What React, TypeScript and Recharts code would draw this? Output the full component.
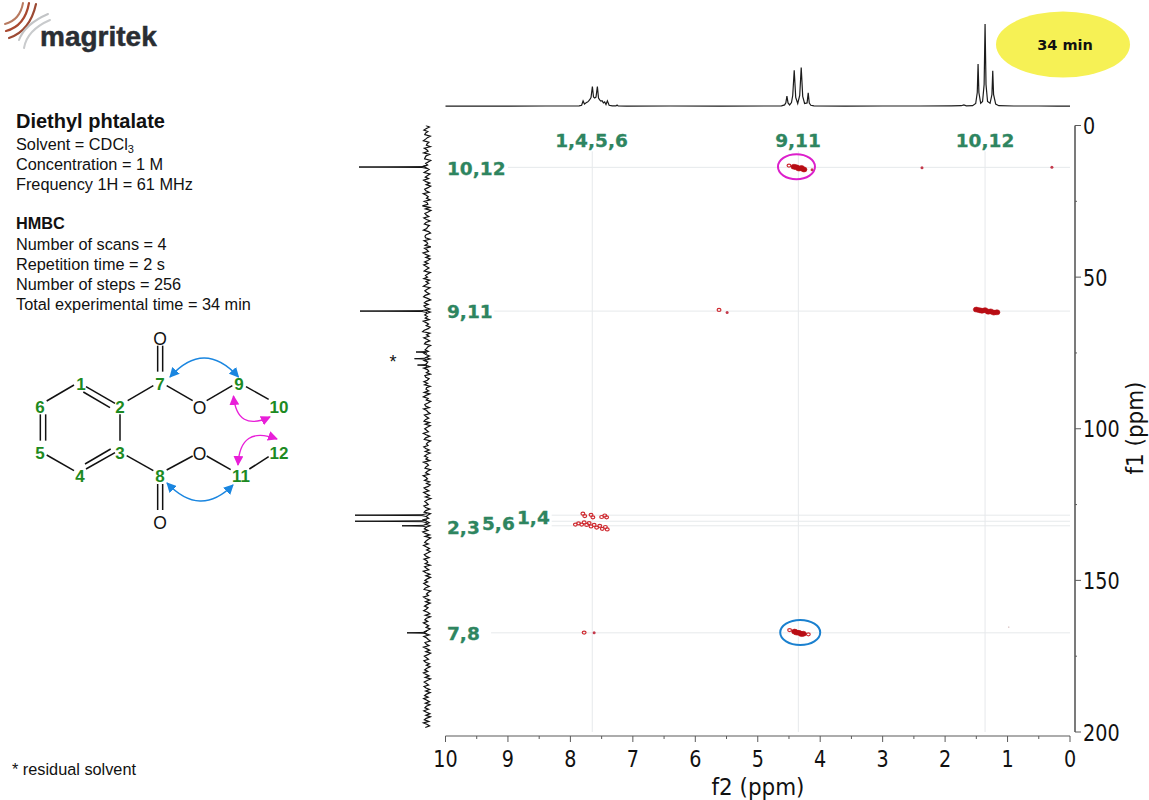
import React from 'react';
import { LineChart, Line, ScatterChart, Scatter, XAxis, YAxis, ReferenceLine } from 'recharts';

// 1H trace on top (f2 ppm / height)
const protonPpm = [
  10, 9.2, 8.4, 8.0, 7.86, 7.82, 7.797, 7.775, 7.744, 7.725, 7.707, 7.691, 7.67, 7.648, 7.63, 7.611, 7.59, 7.568, 7.55,
  7.531, 7.512, 7.493, 7.472, 7.451, 7.43, 7.408, 7.38, 7.33, 7.27, 7.253, 7.235, 7.1, 6.4, 5.6, 4.9, 4.62, 4.57, 4.55,
  4.533, 4.515, 4.49, 4.46, 4.44, 4.416, 4.392, 4.36, 4.328, 4.304, 4.28, 4.25, 4.21, 4.192, 4.175, 4.15, 4.1, 3.6, 3.0,
  2.4, 1.9, 1.74, 1.7, 1.66, 1.56, 1.51, 1.485, 1.472, 1.459, 1.43, 1.40, 1.375, 1.36, 1.345, 1.32, 1.28, 1.25, 1.237,
  1.224, 1.19, 1.14, 0.9, 0.5, 0.2, 0,
];
const protonHeight = [
  0.4, 0.4, 0.5, 0.5, 0.6, 1.2, 5.6, 2.4, 4, 4.4, 5.6, 6.8, 9, 20, 9.5, 8.5, 9.4, 20, 8.5, 6.6, 5.4, 5.8, 3.6, 4.6, 2, 5.6,
  1.2, 0.6, 0.6, 1.5, 0.6, 0.4, 0.5, 0.4, 0.5, 0.7, 1.6, 3.6, 10.3, 3.6, 1.6, 4, 11, 36.3, 9, 3, 11, 39, 10, 3, 3.6, 13.6,
  3.4, 1.2, 0.6, 0.4, 0.5, 0.5, 0.6, 0.8, 1.6, 0.7, 0.8, 3, 14, 42.5, 14, 3.2, 5, 22, 82.5, 22, 5, 3.2, 12, 35.8, 12, 2.4,
  0.8, 0.5, 0.5, 0.4, 0.4,
];

// 13C trace on the left, read every 0.5 ppm from 0 to 200
const carbonStep = 0.5;
const carbonNoise = [
  1.2, -2.4, 0.6, 3.1, -0.8, 1.5, 2.2, -3.3, -0.4, 1.4, 3.6, -1.9, -0.2, 0.6, -3.4, 2.7, 0.2, -1.1, 3.3, -2.6, 0.9, 1.8,
  2.4, -3.7, -1.2, 1.3, -0.6, 3.8, 0.4, -2.1, 0.4, 2.9, -3, -0.6, 1.7, -1.5, 3.4, 1, -2.8, 0.8, -3.6, -1, 2.3, 1.1, -2.2,
  3.7, 0.7, -1.3, 0.5, -3.1, 2.8, -0.3, -0.9, 4.6, -2.7, 1.6, -3.9, -1.1, 2.1, 0.7, -1.8, 3.2, 0.5, -3.2, 1, 2.6, -2.3,
  -0.5, 0.3, 3.5, -1.6, -3.5, 0.8, 2, 1.5, -2.9, 3, 0.1, -0.7, 1.9, -3.8, 2.5, 0.2, -1.4, 3.9, 1.2, -2.5, 1.2, -3.2, -0.8,
  2.4, -1, 3.3, 0.6, -2, 0.6, 2.8, -3.4, -0.7, 1.5, -0.5, 3.1, -2.6, 0.9, -1.7, 1.1, 3.6, -3, -0.2, 2.2, 0.4, -2.4, 1.8,
  3.4, -0.6, -3.6, 0.7, 2.6, -1.2, 3, 1.4, -2.8, 1.3, -3.3, 0.3, 2.3, -0.4, 1.7, -2.2, 3.7, 0.9, -1.5, 0.8, -3.1, -1.2,
  2.7, 4.4, -2.9, 0.5, -1.9, 3.2, 0.2, -2.7, 1.4, 2.5, -3.5, -0.7, 0.3, 1.9, -1.3, 3.5, 1.1, -2.4, 1.1, -3, 2.9, -0.8, 0.4,
  1.6, -2.6, 3.3, -0.4, -1.8, 0.6, -3.4, 2.1, 1.2, -2.1, -0.3, 3.1, -0.6, 2.4, -3.2, 0.5, 1, -1.6, 2.8, -2.8, 0.9, 3.6,
  -1.1, 0.7, -3.7, -0.9, 2.2, 1.5, -2.3, 3.4, 0.3, -0.9, -3, 2.6, 0.9, -1.7, 1.6, 3, -2.5, 1.8, -3.3, -0.2, 2.3, 0.4, -1.4,
  3.7, 0.8, -2.7, 1.3, 2.7, -3.6, -0.8, 0.6, -1, 3.2, 1.2, -2.2, 1.7, -3.1, 0.3, 2.5, -0.7, 1.1, -2.9, 3.5, 0.2, -1.5,
  0.8, 2, -3.5, -0.4, 1.4, -2, 3.8, 1, -0.5, 2.4, -2.6, 0.5, -3.2, -1.3, 2.9, 1, -1.9, 3.3, 0.6, -2.4, 1.6, -3.8, -0.1,
  2.2, 0.3, -1.2, 3.1, 1.3, -2.8, 1.2, 2.8, -3.4, -0.6, 0.7, -1.6, 3.6, 0.4, -2.3, 1.5, -3, 0.9, 2.6, -0.9, 4.2, 1.7, -2.7,
  1.9, -3.6, -1, 0.9, 2.3, -1.3, 3.4, 0.5, -2.5, 0.4, -3.3, -0.5, 2.7, 1.3, -2.1, 3, 0.2, -0.8, 1.8, -3.1, 2.4, 0.6, -1.8,
  3.7, 1.1, -2.9, 1.1, -3.5, -0.3, 2.1, -0.6, 3.2, 0.7, -2.2, 1.6, 2.9, -3.7, -1.1, 0.5, -1.4, 3.5, 1.2, -2.6, 1.4, -3.2,
  0.1, 2.5, -1, 0.8, 3.3, -0.7, -2.8, 1.7, -3.4, 0.6, 2.2, -0.7, 3.6, 1, -1.7, 0.9, -3, -0.4, 2.7, 1.5, -2.3, 3.2, 0.3,
  -1.2, -3.3, 2, 0.8, -1.9, 3.4, 0.4, -2.6, 1.2, -3.6, -0.9, 2.6, 0.5, -1.5, 3.1, 1.4, -2.4, 0.7, -3.1, 0.2, 2.3, -0.8,
  3.5, 0.9, -2.1, 1.8, -3.5, -0.2, 2.8, 0.6, -1.6, 3, 1, -2.7, 1.3, -3.2, 0.4, 2.4, -1.1, 3.3, 0.1, -2.5, 1.6, -2.9, 0.7,
  2.1, -1.4, 3.2, 0.5, -2.9, 1.1, -3.4, 0.8, 2.6, -1.8, 3.5, -0.3, -2.6, 1.7,
];
const carbonPeaks = [
  [[13.2, 0], [13.55, 5], [13.7, 68], [13.85, 5], [14.2, 0]],
  [[60.7, 0], [61.05, 5], [61.2, 67], [61.35, 5], [61.7, 0]],
  [[74.2, 0], [74.55, 2], [74.7, 11], [74.85, 2], [75.2, 0]],
  [[76.4, 0], [76.75, 2], [76.9, 12.5], [77.05, 2], [77.4, 0]],
  [[78.5, 0], [78.85, 2], [79, 9.5], [79.15, 2], [79.5, 0]],
  [[128, 0], [128.35, 5], [128.5, 72], [128.65, 5], [129, 0]],
  [[130, 0], [130.35, 5], [130.5, 72], [130.65, 5], [131, 0]],
  [[131.5, 0], [131.85, 4], [132, 25], [132.15, 4], [132.5, 0]],
  [[166.8, 0], [167.15, 3], [167.3, 20], [167.45, 3], [167.8, 0]],
];

// HMBC cross peaks, f2 / f1 ppm
const peakBlobs = [
  { f2: 4.42, f1: 13.6 }, { f2: 4.38, f1: 13.8 }, { f2: 4.34, f1: 14.2 }, { f2: 4.3, f1: 14 }, { f2: 4.26, f1: 14.5 },
  { f2: 1.5, f1: 60.7 }, { f2: 1.45, f1: 60.9 }, { f2: 1.41, f1: 61.1 }, { f2: 1.36, f1: 60.9 }, { f2: 1.31, f1: 61.4 },
  { f2: 1.27, f1: 61.3 }, { f2: 1.22, f1: 61.7 }, { f2: 1.17, f1: 61.6 },
  { f2: 4.41, f1: 166.9 }, { f2: 4.38, f1: 167.2 }, { f2: 4.34, f1: 167.3 }, { f2: 4.3, f1: 167.7 }, { f2: 4.27, f1: 167.6 },
];
const peakRings = [
  { f2: 4.5, f1: 13.2 }, { f2: 4.49, f1: 166.4 }, { f2: 4.19, f1: 167.8 }, { f2: 5.62, f1: 60.8 }, { f2: 7.78, f1: 167.2 },
  { f2: 7.8, f1: 128 }, { f2: 7.77, f1: 128.8 }, { f2: 7.67, f1: 128.4 }, { f2: 7.64, f1: 129.2 }, { f2: 7.5, f1: 129.1 },
  { f2: 7.45, f1: 128.6 }, { f2: 7.42, f1: 129.2 }, { f2: 7.92, f1: 131.6 }, { f2: 7.87, f1: 131.2 }, { f2: 7.82, f1: 131.6 },
  { f2: 7.78, f1: 130.9 }, { f2: 7.74, f1: 131.7 }, { f2: 7.7, f1: 131.1 }, { f2: 7.67, f1: 132.2 }, { f2: 7.62, f1: 131.7 },
  { f2: 7.58, f1: 132.6 }, { f2: 7.53, f1: 132 }, { f2: 7.49, f1: 133 }, { f2: 7.44, f1: 132.4 }, { f2: 7.41, f1: 133.2 },
];
const peakDots = [
  { f2: 4.13, f1: 14.6 }, { f2: 2.37, f1: 13.9 }, { f2: 0.29, f1: 13.8 }, { f2: 5.49, f1: 61.7 }, { f2: 7.62, f1: 167.3 },
];
const faintDots = [{ f2: 0.98, f1: 165.4 }];
const magentaCircle = [{ f2: 4.38, f1: 13.6 }];
const blueCircle = [{ f2: 4.32, f1: 167.2 }];

// assignment guide lines
const guideRows = [
  { f1: 13.8, from: 9.0 }, { f1: 61.2, from: 9.22 }, { f1: 128.5, from: 8.3 }, { f1: 130.5, from: 8.3 }, { f1: 132, from: 8.3 },
  { f1: 167.3, from: 9.27 },
];
const guideCols = [7.65, 4.35, 1.36];

const f2Ticks = [0, 0.5, 1, 1.5, 2, 2.5, 3, 3.5, 4, 4.5, 5, 5.5, 6, 6.5, 7, 7.5, 8, 8.5, 9, 9.5, 10];
const f1Ticks = [0, 25, 50, 75, 100, 125, 150, 175, 200];

const infoLines = ['Number of scans = 4', 'Repetition time = 2 s', 'Number of steps = 256', 'Total experimental time = 34 min'];

const AXIS_COLOR = '#5a5a5a';
const LABEL_GREEN = '#2e8560';
const GUIDE = '#e6e9eb';
const ATOM_GREEN = '#1d8a22';
const TICK_FONT = '"DejaVu Sans", sans-serif';

const noiseTrace = carbonNoise.map((v, i) => ({ f1: i * carbonStep, amp: v })).filter((p) => p.f1 <= 200);

const F2Tick = ({ x, y, payload }: any) => {
  const major = Number.isInteger(payload.value);
  const label = String(payload.value);
  return (
    <g>
      <line x1={x} x2={x} y1={y} y2={y + (major ? 6 : 3)} stroke={AXIS_COLOR} strokeWidth={1} />
      {major && (
        <text x={x} y={y + 31} textAnchor="middle" fontFamily={TICK_FONT} fontSize={23} fill="#111"
          textLength={label.length * 12.2} lengthAdjust="spacingAndGlyphs">
          {label}
        </text>
      )}
    </g>
  );
};

const F1Tick = ({ x, y, payload }: any) => {
  const major = payload.value % 50 === 0;
  const label = String(payload.value);
  return (
    <g>
      <line x1={x} x2={x + (major ? 6 : 2)} y1={y} y2={y} stroke={AXIS_COLOR} strokeWidth={1} />
      {major && (
        <text x={x + 8} y={y + 8.5} textAnchor="start" fontFamily={TICK_FONT} fontSize={23} fill="#111"
          textLength={label.length * 12.2} lengthAdjust="spacingAndGlyphs">
          {label}
        </text>
      )}
    </g>
  );
};

const noMark = () => <g />;
const blobMark = ({ cx, cy }: any) => <ellipse cx={cx} cy={cy} rx={3} ry={2.5} fill="#b80d14" stroke="#b80d14" strokeWidth={0.6} />;
const ringMark = ({ cx, cy }: any) => <ellipse cx={cx} cy={cy} rx={1.9} ry={1.5} fill="none" stroke="#cf2a30" strokeWidth={1.2} />;
const dotMark = ({ cx, cy }: any) => <circle cx={cx} cy={cy} r={1.5} fill="#c43a4c" />;
const faintMark = ({ cx, cy }: any) => <circle cx={cx} cy={cy} r={0.7} fill="#c4a0a0" />;
const magentaMark = ({ cx, cy }: any) => <ellipse cx={cx} cy={cy} rx={18.5} ry={12.5} fill="none" stroke="#dc1fcb" strokeWidth={2} />;
const blueMark = ({ cx, cy }: any) => <ellipse cx={cx} cy={cy} rx={20} ry={12.5} fill="none" stroke="#1a80cf" strokeWidth={2} />;

const Proton = () => (
  <div style={{ position: 'absolute', left: 0, top: 0 }}>
    <LineChart
      width={1149}
      height={120}
      data={protonPpm.map((p, i) => ({ ppm: p, h: protonHeight[i] }))}
      margin={{ top: 20, right: 79, bottom: 13.5, left: 445.5 }}
    >
      <XAxis type="number" dataKey="ppm" domain={[0, 10]} reversed hide />
      <YAxis type="number" domain={[0, 86.5]} hide />
      <Line type="linear" dataKey="h" stroke="#1c1c1c" strokeWidth={1.2} dot={false} isAnimationActive={false} />
    </LineChart>
  </div>
);

const Carbon = () => (
  <div style={{ position: 'absolute', left: 340, top: 0 }}>
    <ScatterChart width={100} height={800} margin={{ top: 125.5, right: 5, bottom: 68, left: 10 }}>
      <XAxis type="number" dataKey="amp" domain={[-8, 77]} reversed hide />
      <YAxis type="number" dataKey="f1" domain={[0, 200]} reversed hide allowDataOverflow />
      <Scatter data={noiseTrace} line={{ stroke: '#111', strokeWidth: 1.2 }} shape={noMark} isAnimationActive={false} />
      {carbonPeaks.map((pk, i) => (
        <Scatter
          key={i}
          data={pk.map(([f1, amp]) => ({ f1, amp }))}
          line={{ stroke: '#111', strokeWidth: 1 }}
          shape={noMark}
          isAnimationActive={false}
        />
      ))}
    </ScatterChart>
  </div>
);

const Hmbc = () => (
  <div style={{ position: 'absolute', left: 0, top: 0 }}>
    <ScatterChart width={1149} height={800} margin={{ top: 125.5, right: 0, bottom: 0, left: 445.5 }}>
      {/* spacer axes push the real axes 4-5px off the plot */}
      <XAxis xAxisId="aGap" type="number" dataKey="f2" domain={[0, 10]} reversed height={4} axisLine={false} tickLine={false} tick={false} />
      <XAxis
        xAxisId="f2"
        type="number"
        dataKey="f2"
        domain={[0, 10]}
        reversed
        ticks={f2Ticks}
        interval={0}
        height={64}
        tick={F2Tick}
        tickLine={false}
        tickSize={0}
        tickMargin={0}
        axisLine={{ stroke: AXIS_COLOR, strokeWidth: 1.2 }}
      />
      <YAxis yAxisId="aGap" orientation="right" type="number" dataKey="f1" domain={[0, 200]} reversed width={5} axisLine={false} tickLine={false} tick={false} />
      <YAxis
        yAxisId="f1"
        orientation="right"
        type="number"
        dataKey="f1"
        domain={[0, 200]}
        reversed
        ticks={f1Ticks}
        interval={0}
        width={74}
        tick={F1Tick}
        tickLine={false}
        tickSize={0}
        tickMargin={0}
        axisLine={{ stroke: AXIS_COLOR, strokeWidth: 1.6 }}
      />
      {guideRows.map((g) => (
        <ReferenceLine
          key={g.f1}
          xAxisId="f2"
          yAxisId="f1"
          segment={[{ x: g.from, y: g.f1 }, { x: 0, y: g.f1 }]}
          stroke={GUIDE}
          strokeWidth={1}
        />
      ))}
      {guideCols.map((c) => (
        <ReferenceLine
          key={c}
          xAxisId="f2"
          yAxisId="f1"
          segment={[{ x: c, y: 8.5 }, { x: c, y: 200 }]}
          stroke={GUIDE}
          strokeWidth={1}
        />
      ))}
      <Scatter xAxisId="f2" yAxisId="f1" data={peakRings} shape={ringMark} isAnimationActive={false} />
      <Scatter xAxisId="f2" yAxisId="f1" data={peakBlobs} shape={blobMark} isAnimationActive={false} />
      <Scatter xAxisId="f2" yAxisId="f1" data={peakDots} shape={dotMark} isAnimationActive={false} />
      <Scatter xAxisId="f2" yAxisId="f1" data={faintDots} shape={faintMark} isAnimationActive={false} />
      <Scatter xAxisId="f2" yAxisId="f1" data={magentaCircle} shape={magentaMark} isAnimationActive={false} />
      <Scatter xAxisId="f2" yAxisId="f1" data={blueCircle} shape={blueMark} isAnimationActive={false} />
    </ScatterChart>
  </div>
);

const Bond = ({ d }: { d: number[] }) => (
  <line x1={d[0] / 3} y1={320 + d[1] / 3} x2={d[2] / 3} y2={320 + d[3] / 3} stroke="#111" strokeWidth={1.5} />
);

const bonds = [
  [140, 243, 222, 195], [258, 200, 345, 250], [250, 216, 330, 263], [360, 283, 360, 362], [345, 398, 258, 447],
  [332, 387, 255, 432], [222, 452, 140, 405], [121, 362, 121, 283], [137, 362, 137, 283], [383, 242, 460, 197],
  [380, 407, 460, 452], [473, 155, 473, 77], [488, 155, 488, 77], [473, 492, 473, 570], [488, 492, 488, 570],
  [500, 197, 578, 242], [620, 242, 697, 197], [738, 200, 806, 238], [500, 450, 578, 408], [620, 408, 692, 449],
  [748, 447, 806, 410],
];
const atoms: [string, number, number][] = [
  ['1', 81, 384], ['2', 120, 407], ['3', 120, 453], ['4', 80, 476], ['5', 40, 453], ['6', 40, 407], ['7', 160, 384],
  ['8', 160, 476], ['9', 239, 384], ['10', 279, 407], ['11', 241, 476], ['12', 279, 453],
];
const oxygens: [number, number][] = [[160, 338], [199.5, 407], [199.5, 453], [160, 522]];

const Overlay = () => (
  <svg width={1149} height={800} style={{ position: 'absolute', left: 0, top: 0 }}>
    <defs>
      <marker id="arB" viewBox="0 0 10 10" refX="9" refY="5" markerWidth="10" markerHeight="10" orient="auto-start-reverse" markerUnits="userSpaceOnUse">
        <path d="M0,0 L10,5 L0,10 Z" fill="#1a86e0" />
      </marker>
      <marker id="arM" viewBox="0 0 10 10" refX="9" refY="5" markerWidth="10" markerHeight="10" orient="auto-start-reverse" markerUnits="userSpaceOnUse">
        <path d="M0,0 L10,5 L0,10 Z" fill="#e81fd8" />
      </marker>
    </defs>

    {/* logo */}
    <g fill="none" strokeLinecap="round">
      <path d="M5,24 Q20,20 23,3" stroke="#b87a60" strokeWidth={2} />
      <path d="M6,31 Q25,26 29,3" stroke="#a9482f" strokeWidth={2.2} />
      <path d="M9,38 Q30,31 36,4" stroke="#9c4a34" strokeWidth={2.2} />
      <path d="M19,40 Q25,24 48,14" stroke="#c2c4c6" strokeWidth={2} />
      <path d="M24,48 Q27,30 50,20" stroke="#c9cbcd" strokeWidth={2} />
    </g>
    <text x={40} y={46} fontFamily='"Liberation Sans", sans-serif' fontWeight={700} fontSize={28} fill="#2a2e33" stroke="#2a2e33" strokeWidth={0.5}>magritek</text>

    {/* experiment info */}
    <g fontFamily='"Liberation Sans", Arial, sans-serif' fontSize={16.3} fill="#111">
      <text x={16} y={128} fontWeight={700} fontSize={20}>Diethyl phtalate</text>
      <text x={16} y={150}>Solvent = CDCl<tspan fontSize={11} dy={3}>3</tspan></text>
      <text x={16} y={170}>Concentration = 1 M</text>
      <text x={16} y={190}>Frequency 1H = 61 MHz</text>
      <text x={16} y={229} fontWeight={700}>HMBC</text>
      {infoLines.map((t, i) => (
        <text key={t} x={16} y={250 + i * 20}>{t}</text>
      ))}
      <text x={12} y={775}>* residual solvent</text>
    </g>

    {/* structure */}
    {bonds.map((b, i) => <Bond key={i} d={b} />)}
    <g fontFamily='"Liberation Sans", Arial, sans-serif' fontSize={17} fontWeight={700} fill={ATOM_GREEN} textAnchor="middle">
      {atoms.map(([t, x, y]) => <text key={t} x={x} y={y + 6}>{t}</text>)}
    </g>
    <g fontFamily='"Liberation Sans", Arial, sans-serif' fontSize={17.5} fill="#111" textAnchor="middle">
      {oxygens.map(([x, y]) => <text key={`${x}-${y}`} x={x} y={y + 6.5}>O</text>)}
    </g>
    <g fill="none" strokeWidth={1.4}>
      <path d="M170,377 Q204,339 238.5,377" stroke="#1a86e0" markerStart="url(#arB)" markerEnd="url(#arB)" />
      <path d="M167,483 Q200,518 233,485" stroke="#1a86e0" markerStart="url(#arB)" markerEnd="url(#arB)" />
      <path d="M233.5,396 Q237,432 270,417" stroke="#e81fd8" markerStart="url(#arM)" markerEnd="url(#arM)" />
      <path d="M238,465 Q240,425 277,439" stroke="#e81fd8" markerStart="url(#arM)" markerEnd="url(#arM)" />
    </g>

    {/* time badge */}
    <ellipse cx={1063} cy={44.5} rx={67} ry={33} fill="#f6f155" />
    <text x={1065} y={50} textAnchor="middle" fontFamily='"DejaVu Sans", sans-serif' fontWeight={700} fontSize={14.5} fill="#111">34 min</text>

    {/* assignments */}
    <g fontFamily='"DejaVu Sans", sans-serif' fontWeight={700} fontSize={18.5} fill={LABEL_GREEN} stroke={LABEL_GREEN} strokeWidth={0.3}>
      <text x={591.5} y={147} textAnchor="middle">1,4,5,6</text>
      <text x={798} y={147} textAnchor="middle">9,11</text>
      <text x={985} y={147} textAnchor="middle">10,12</text>
      <text x={447} y={175}>10,12</text>
      <text x={447} y={318}>9,11</text>
      <text x={447} y={534}>2,3</text>
      <text x={482} y={530}>5,6</text>
      <text x={517} y={524}>1,4</text>
      <text x={447} y={640}>7,8</text>
    </g>
    <text x={393} y={368} textAnchor="middle" fontFamily='"Liberation Sans", sans-serif' fontSize={18} fill="#111">*</text>

    {/* axis titles */}
    <text x={758} y={795} textAnchor="middle" fontFamily={TICK_FONT} fontSize={23} fill="#111" textLength={93} lengthAdjust="spacingAndGlyphs">f2 (ppm)</text>
    <text transform="translate(1143,428) rotate(-90)" textAnchor="middle" fontFamily={TICK_FONT} fontSize={23} fill="#111" textLength={93} lengthAdjust="spacingAndGlyphs">f1 (ppm)</text>
  </svg>
);

export default function App() {
  return (
    <div style={{ position: 'absolute', left: 0, top: 0, width: 1149, height: 800, background: '#fff', overflow: 'hidden' }}>
      <Hmbc />
      <Proton />
      <Carbon />
      <Overlay />
    </div>
  );
}
